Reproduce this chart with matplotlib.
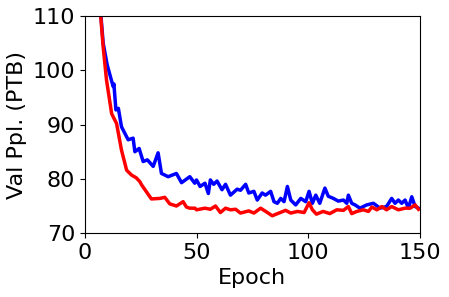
import matplotlib.pyplot as plt

# blue curve (epoch, val ppl)
blue_epoch = [1, 4, 6, 7, 8.2, 10, 12, 12.7, 13, 13.9, 15, 16.4, 19.4, 21.6, 22.4, 24.3, 26.1,
              28, 30.6, 32.8, 34.3, 37.3, 41, 43.3, 47, 49.2, 50, 51.6, 53.8, 55.3, 56.2, 57.7,
              59.2, 61.4, 63, 65.2, 68.2, 69.7, 72, 73.4, 75.7, 77.2, 79.4, 80.9, 83.2, 84.7,
              86.2, 87.7, 89.2, 90.7, 92.2, 94.4, 96.7, 98.9, 100.4, 101.9, 103.4, 105.2, 107.5,
              109, 111.3, 113.5, 115.8, 117.3, 118, 119.5, 121, 123.2, 126.2, 129.2, 132.2,
              135.1, 137.4, 138.9, 140.4, 141.9, 143.4, 144.9, 146.4, 147.9, 149.4]
blue_ppl = [160, 125, 115, 111, 105, 101, 98, 97, 97.5, 92.7, 93, 89.6, 87.2, 87.5, 85, 85.6, 83.2,
            83.5, 82.3, 84.8, 81, 80.4, 81, 79.3, 80.4, 79.2, 79.8, 78.6, 79.2, 77.3, 79.8, 79,
            79.6, 78, 79, 77, 78.1, 77.9, 79, 77.4, 77.7, 76.1, 77.4, 77, 77.7, 75.8,
            75.5, 76.4, 75.8, 78.6, 76.1, 75.2, 76.4, 75.8, 77.7, 75.5, 77, 75.5, 78.3,
            76.8, 76.4, 75.9, 76.1, 75.5, 77, 75.5, 75.2, 74.6, 75.2, 75.5, 74.6,
            74.9, 76.4, 75.5, 76.1, 75.5, 76.1, 74.6, 76.7, 74.9, 74.6]

# red curve
red_epoch = [1, 4, 6, 7, 8.2, 9.7, 12, 14.2, 16.4, 18.7, 20.9, 23, 24.6, 25.4, 27.6, 29.8, 33.6,
             35.8, 38, 41, 44, 45.5, 47, 49.3, 50, 53.8, 56.2, 58.5, 60.7, 63, 65.2, 67.5,
             69.7, 73.4, 75.7, 78.7, 81, 83.9, 86.9, 89.9, 92.2, 95.2, 98.2, 100.4, 101.9,
             103.7, 106.7, 109.7, 112.8, 115.8, 118, 119.5, 121.8, 124.7, 127, 128.5, 130.8,
             133, 135.1, 137.4, 140.4, 143.4, 145.7, 147.9, 149.4]
red_ppl = [160, 124, 114, 110.5, 104.3, 98.2, 92, 90.2, 85.3, 81.6, 80.7, 80.2, 79.5, 78.9, 77.6,
           76.3, 76.4, 76.6, 75.4, 75, 75.8, 74.8, 74.6, 74.6, 74.3, 74.6, 74.4, 75.0, 73.8,
           74.6, 74.3, 74.4, 73.7, 74.1, 73.7, 74.6, 74.0, 73.2, 73.7, 74.2, 73.7, 74.0, 73.8,
           75.6, 74.3, 73.5, 74, 73.6, 74.3, 74.2, 74.9, 73.6, 74, 74.3, 74, 74.8, 74.3,
           74.9, 74.3, 74.9, 74.3, 74.6, 74.6, 75.2, 74.4]

fig = plt.figure(figsize=(4.49, 2.97), dpi=100)
ax = fig.add_axes([0.189, 0.215, 0.746, 0.731])
ax.plot(blue_epoch, blue_ppl, color='blue', lw=2.5)
ax.plot(red_epoch, red_ppl, color='red', lw=2.5)
ax.set_xlim(0, 150)
ax.set_ylim(70, 110)
ax.set_xticks([0, 50, 100, 150])
ax.set_yticks([70, 80, 90, 100, 110])
ax.tick_params(labelsize=16)
ax.set_xlabel("Epoch", fontsize=16)
ax.set_ylabel("Val Ppl. (PTB)", fontsize=16)
fig.savefig("out.png", dpi=100)
